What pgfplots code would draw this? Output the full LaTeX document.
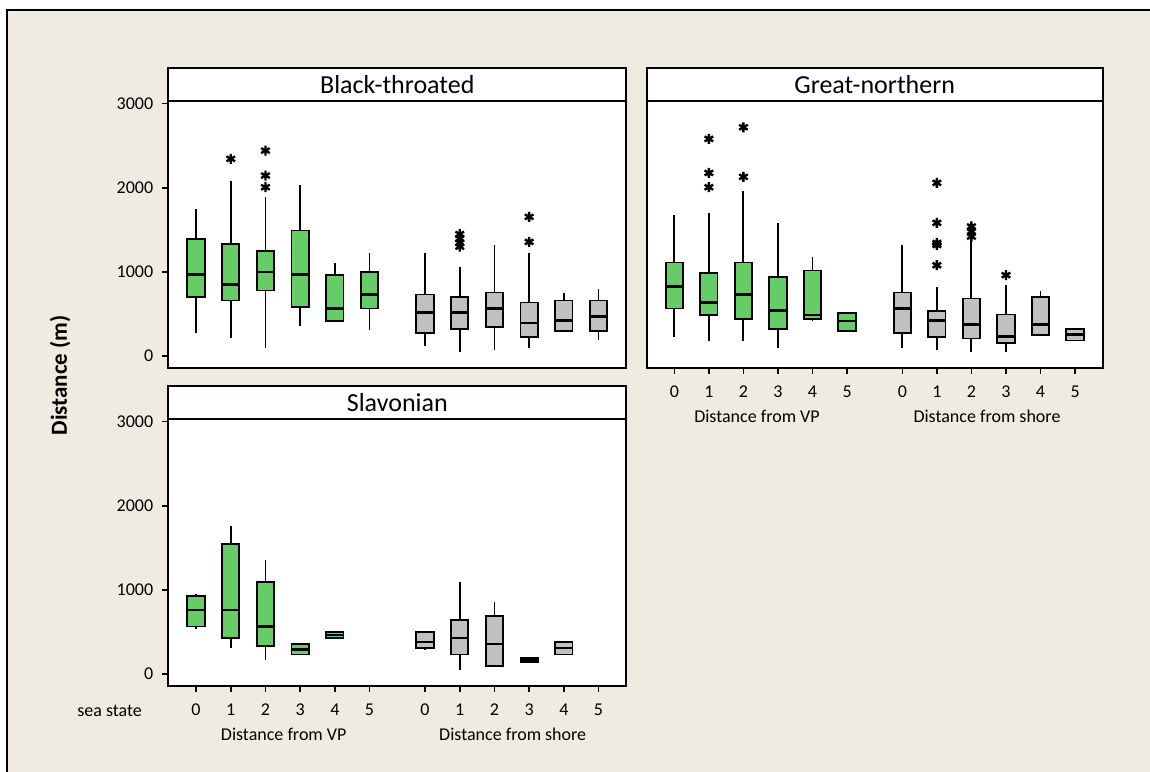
\documentclass[border=0pt]{standalone}
\usepackage{fontspec}
\setmainfont{Carlito}
\usepackage{pgfplots}
\pgfplotsset{compat=1.18}
\usepgfplotslibrary{statistics}

\definecolor{paper}{RGB}{239,235,225}
\definecolor{vpgreen}{RGB}{102,204,102}
\definecolor{shoregrey}{RGB}{192,192,192}

\tikzset{
  strip/.style={draw=black, line width=1pt, fill=white},
  striptext/.style={font=\fontsize{13}{15}\selectfont},
}

\pgfplotsset{
  panel/.style={
    scale only axis, width=229pt, height=133.5pt,
    xmin=0.2, xmax=13.4, ymin=-140, ymax=3030,
    axis background/.style={fill=white},
    axis line style={line width=1pt},
    clip=false,
    tick align=outside, major tick length=3pt,
    tick style={black, line width=0.8pt},
    xtick pos=bottom, ytick pos=left,
    ytick={0,1000,2000,3000},
    xtick={1,2,3,4,5,6,7.6,8.6,9.6,10.6,11.6,12.6},
    xticklabels={0,1,2,3,4,5,0,1,2,3,4,5},
    tick label style={font=\fontsize{9}{10}\selectfont},
    xticklabel style={yshift=-2.5pt},
    yticklabel style={xshift=-1pt},
    /pgf/number format/assume math mode=true,
    /pgf/number format/set thousands separator={},
    boxplot/draw direction=y,
    boxplot/box extend=0.5,
    boxplot/whisker extend=0,
    % median bar and plain whiskers (no caps), drawn as heavy as the box
    boxplot/draw/median/.code={%
      \draw[black, line width=1.1pt]
        (boxplot box cs:\pgfplotsboxplotvalue{median},0) --
        (boxplot box cs:\pgfplotsboxplotvalue{median},1);},
    boxplot/draw/lower whisker/.code={%
      \draw[black, line width=0.95pt]
        (boxplot cs:\pgfplotsboxplotvalue{lower whisker}) --
        (boxplot cs:\pgfplotsboxplotvalue{lower quartile});},
    boxplot/draw/upper whisker/.code={%
      \draw[black, line width=0.95pt]
        (boxplot cs:\pgfplotsboxplotvalue{upper quartile}) --
        (boxplot cs:\pgfplotsboxplotvalue{upper whisker});},
  },
  bx/.style={draw=black, line width=0.95pt, mark=asterisk, mark size=2.5pt,
    mark options={black, line width=1.2pt}},
  vp/.style={bx, fill=vpgreen},
  sh/.style={bx, fill=shoregrey},
}

\begin{document}
\begin{tikzpicture}
\useasboundingbox (0,0) rectangle (575pt,385.5pt);
\fill[white] (0,0) rectangle (575pt,385.5pt);
\draw[fill=paper, line width=0.75pt] (3.4pt,-5pt) rectangle (590pt,380.5pt);

% ---------------- Black-throated ----------------
\begin{axis}[panel, at={(84.15pt,201.5pt)}, anchor=south west, xtick=\empty]
\addplot[vp, boxplot prepared={draw position=1, lower whisker=281, lower quartile=704, median=969, upper quartile=1393, upper whisker=1745}] coordinates {};
\addplot[vp, boxplot prepared={draw position=2, lower whisker=214, lower quartile=661, median=851, upper quartile=1330, upper whisker=2077}] coordinates {(0,2343)};
\addplot[vp, boxplot prepared={draw position=3, lower whisker=95, lower quartile=780, median=997, upper quartile=1254, upper whisker=1888}] coordinates {(0,2006) (0,2145) (0,2441)};
\addplot[vp, boxplot prepared={draw position=4, lower whisker=356, lower quartile=586, median=969, upper quartile=1492, upper whisker=2030}] coordinates {};
\addplot[vp, boxplot prepared={draw position=5, lower whisker=423, lower quartile=423, median=566, upper quartile=969, upper whisker=1104}] coordinates {};
\addplot[vp, boxplot prepared={draw position=6, lower whisker=309, lower quartile=566, median=732, upper quartile=997, upper whisker=1227}] coordinates {};
\addplot[sh, boxplot prepared={draw position=7.6, lower whisker=119, lower quartile=277, median=518, upper quartile=732, upper whisker=1227}] coordinates {};
\addplot[sh, boxplot prepared={draw position=8.6, lower whisker=47, lower quartile=328, median=518, upper quartile=708, upper whisker=1060}] coordinates {(0,1300) (0,1345) (0,1395) (0,1450)};
\addplot[sh, boxplot prepared={draw position=9.6, lower whisker=71, lower quartile=348, median=566, upper quartile=756, upper whisker=1318}] coordinates {};
\addplot[sh, boxplot prepared={draw position=10.6, lower whisker=95, lower quartile=233, median=396, upper quartile=637, upper whisker=1227}] coordinates {(0,1357) (0,1654)};
\addplot[sh, boxplot prepared={draw position=11.6, lower whisker=289, lower quartile=301, median=423, upper quartile=661, upper whisker=748}] coordinates {};
\addplot[sh, boxplot prepared={draw position=12.6, lower whisker=190, lower quartile=301, median=471, upper quartile=661, upper whisker=795}] coordinates {};
\draw[strip] (rel axis cs:0,1) rectangle (rel axis cs:1,1.1236);
\node[striptext] at (rel axis cs:0.5,1.0618) {Black-throated};
\end{axis}

% ---------------- Great-northern ----------------
\begin{axis}[panel, at={(323.35pt,201.5pt)}, anchor=south west, width=228pt, ytick=\empty]
\addplot[vp, boxplot prepared={draw position=1, lower whisker=233, lower quartile=566, median=827, upper quartile=1112, upper whisker=1674}] coordinates {};
\addplot[vp, boxplot prepared={draw position=2, lower whisker=186, lower quartile=487, median=637, upper quartile=993, upper whisker=1698}] coordinates {(0,2006) (0,2176) (0,2580)};
\addplot[vp, boxplot prepared={draw position=3, lower whisker=186, lower quartile=447, median=732, upper quartile=1112, upper whisker=1959}] coordinates {(0,2129) (0,2718)};
\addplot[vp, boxplot prepared={draw position=4, lower whisker=95, lower quartile=328, median=542, upper quartile=942, upper whisker=1579}] coordinates {};
\addplot[vp, boxplot prepared={draw position=5, lower whisker=423, lower quartile=443, median=487, upper quartile=1017, upper whisker=1175}] coordinates {};
\addplot[vp, boxplot prepared={draw position=6, lower whisker=301, lower quartile=301, median=419, upper quartile=518, upper whisker=518}] coordinates {};
\addplot[sh, boxplot prepared={draw position=7.6, lower whisker=95, lower quartile=277, median=566, upper quartile=756, upper whisker=1318}] coordinates {};
\addplot[sh, boxplot prepared={draw position=8.6, lower whisker=71, lower quartile=233, median=423, upper quartile=542, upper whisker=819}] coordinates {(0,1080) (0,1320) (0,1345) (0,1583) (0,2058)};
\addplot[sh, boxplot prepared={draw position=9.6, lower whisker=47, lower quartile=210, median=376, upper quartile=685, upper whisker=1377}] coordinates {(0,1420) (0,1480) (0,1540)};
\addplot[sh, boxplot prepared={draw position=10.6, lower whisker=47, lower quartile=162, median=233, upper quartile=495, upper whisker=843}] coordinates {(0,962)};
\addplot[sh, boxplot prepared={draw position=11.6, lower whisker=253, lower quartile=253, median=376, upper quartile=708, upper whisker=776}] coordinates {};
\addplot[sh, boxplot prepared={draw position=12.6, lower whisker=186, lower quartile=186, median=257, upper quartile=328, upper whisker=328}] coordinates {};
\draw[strip] (rel axis cs:0,1) rectangle (rel axis cs:1,1.1236);
\node[striptext] at (rel axis cs:0.5,1.0618) {Great-northern};
\end{axis}

% ---------------- Slavonian ----------------
\begin{axis}[panel, at={(84.15pt,42.5pt)}, anchor=south west]
\addplot[vp, boxplot prepared={draw position=1, lower whisker=532, lower quartile=567, median=766, upper quartile=929, upper whisker=948}] coordinates {};
\addplot[vp, boxplot prepared={draw position=2, lower whisker=313, lower quartile=429, median=766, upper quartile=1548, upper whisker=1758}] coordinates {};
\addplot[vp, boxplot prepared={draw position=3, lower whisker=171, lower quartile=333, median=567, upper quartile=1099, upper whisker=1353}] coordinates {};
\addplot[vp, boxplot prepared={draw position=4, lower whisker=234, lower quartile=234, median=294, upper quartile=361, upper whisker=361}] coordinates {};
\addplot[vp, boxplot prepared={draw position=5, lower whisker=429, lower quartile=429, median=468, upper quartile=504, upper whisker=504}] coordinates {};
\addplot[sh, boxplot prepared={draw position=7.6, lower whisker=286, lower quartile=310, median=385, upper quartile=504, upper whisker=504}] coordinates {};
\addplot[sh, boxplot prepared={draw position=8.6, lower whisker=52, lower quartile=234, median=433, upper quartile=647, upper whisker=1091}] coordinates {};
\addplot[sh, boxplot prepared={draw position=9.6, lower whisker=95, lower quartile=95, median=357, upper quartile=694, upper whisker=853}] coordinates {};
\addplot[sh, boxplot prepared={draw position=10.6, lower whisker=143, lower quartile=143, median=167, upper quartile=190, upper whisker=190}] coordinates {};
\addplot[sh, boxplot prepared={draw position=11.6, lower whisker=234, lower quartile=234, median=313, upper quartile=381, upper whisker=381}] coordinates {};
\draw[strip] (rel axis cs:0,1) rectangle (rel axis cs:1,1.1236);
\node[striptext] at (rel axis cs:0.5,1.0618) {Slavonian};
\end{axis}

% shared labels
\node[rotate=90, font=\bfseries\fontsize{11.5}{13}\selectfont] at (30pt,197.75pt) {Distance (m)};
\node[font=\fontsize{9}{10}\selectfont, anchor=east] at (74.5pt,30pt) {sea state};
\node[font=\fontsize{9}{10}\selectfont] at (141.85pt,18.5pt) {Distance from VP};
\node[font=\fontsize{9}{10}\selectfont] at (256.35pt,18.5pt) {Distance from shore};
\node[font=\fontsize{9}{10}\selectfont] at (378.5pt,177.5pt) {Distance from VP};
\node[font=\fontsize{9}{10}\selectfont] at (493.5pt,177.5pt) {Distance from shore};
\end{tikzpicture}
\end{document}
